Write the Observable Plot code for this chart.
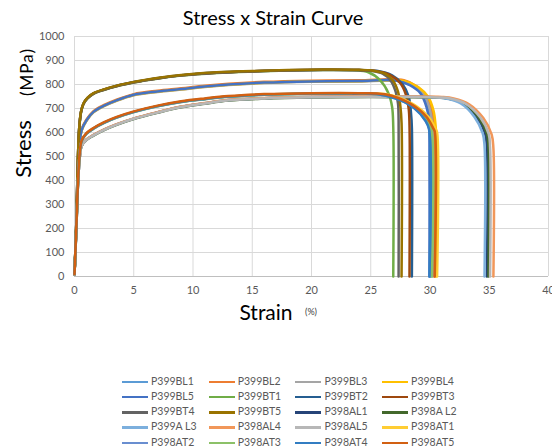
<!DOCTYPE html>
<html>
<head>
<meta charset="utf-8">
<script src="https://cdn.jsdelivr.net/npm/d3@7"></script>
<script src="https://cdn.jsdelivr.net/npm/@observablehq/plot@0.6"></script>
<style>
  body { margin: 0; background: #fff; font-family: Lato, "Open Sans", sans-serif; }
  #wrap { position: relative; width: 552px; height: 448px; overflow: hidden; }
  #title { position: absolute; top: 5px; left: 0; width: 546px; text-align: center; font-size: 20px; color: #000; }
  #legend { position: absolute; top: 0; left: 0; }
  .li { position: absolute; font-size: 10.5px; color: #595959; white-space: nowrap; }
  .li span.sw { position: absolute; left: 0; top: 6px; width: 26px; height: 2.5px; }
  .li span.tx { position: absolute; left: 29px; top: 0; }
</style>
</head>
<body>
<div id="wrap">
  <div id="chart"></div>
  <div id="title">Stress x Strain Curve</div>
  <div id="legend"></div>
</div>
<script>
const seriesNames = ["P399BL1","P399BL2","P399BL3","P399BL4","P399BL5","P399BT1","P399BT2","P399BT3","P399BT4","P399BT5","P398AL1","P398A L2","P399A L3","P398AL4","P398AL5","P398AT1","P398AT2","P398AT3","P398AT4","P398AT5"];
const seriesColors = ["#5B9BD5","#ED7D31","#A5A5A5","#FFC000","#4472C4","#70AD47","#255E91","#9E480E","#636363","#997300","#264478","#43682B","#7CAFDD","#F1975A","#B7B7B7","#FFCD33","#698ED0","#8CC168","#327DC2","#D26012"];
const strainTicks = [0,5,10,15,20,25,30,35,40];
const stressTicks = [0,100,200,300,400,500,600,700,800,900,1000];

// [strain %, stress MPa]
const P399BL1 = [[0,8],[0.15,200],[0.3,420],[0.45,560],[0.6,610],[1,650],[1.6,686],[2.5,712],[3.5,733],[5,757],[7,771],[9,781],[11,792],[13,800],[16,808],[20,813],[24,815],[27.4,816],[28.5,795],[29.35,760],[29.8,705],[30.02,648],[30.05,610],[30.05,0]];
const P399BL2 = [[0,9],[0.15,202],[0.3,422],[0.45,563],[0.6,613],[1,653],[1.6,689],[2.5,715],[3.5,736],[5,760],[7,774],[9,784],[11,795],[13,803],[16,811],[20,816],[24,818],[27.8,818],[28.9,792],[29.7,750],[30.15,693],[30.32,630],[30.35,610],[30.35,0]];
const P399BL3 = [[0,8],[0.15,198],[0.3,418],[0.45,558],[0.6,608],[1,648],[1.6,684],[2.5,710],[3.5,731],[5,755],[7,769],[9,779],[11,790],[13,798],[16,806],[20,811],[24,813],[27.6,813],[28.7,792],[29.5,756],[29.95,703],[30.17,645],[30.2,610],[30.2,0]];
const P399BL4 = [[0,8],[0.15,199],[0.3,419],[0.45,559],[0.6,609],[1,649],[1.6,685],[2.5,711],[3.5,732],[5,756],[7,770],[9,780],[11,791],[13,799],[16,807],[20,812],[24,814],[27.9,814],[29.0,789],[29.85,748],[30.3,690],[30.47,630],[30.5,610],[30.5,0]];
const P399BL5 = [[0,8],[0.15,200],[0.3,420],[0.45,560],[0.6,610],[1,650],[1.6,686],[2.5,712],[3.5,733],[5,757],[7,771],[9,781],[11,792],[13,800],[16,808],[20,813],[24,815],[27.2,816],[28.3,797],[29.2,763],[29.7,707],[29.92,651],[29.95,612],[29.95,0]];
const P399BT1 = [[0,10],[0.15,215],[0.28,470],[0.4,615],[0.55,683],[0.75,718],[1.1,742],[1.6,761],[3,785],[5,808],[7.25,826],[9,837],[12,848],[15,854],[18,858],[21,860],[23.5,859],[24.8,851],[25.8,817],[26.5,763],[26.8,707],[26.9,623],[26.9,0]];
const P399BT2 = [[0,10],[0.15,220],[0.28,478],[0.4,620],[0.55,686],[0.75,720],[1.1,744],[1.6,763],[3,787],[5,810],[7.25,828],[9,839],[12,850],[15,855],[18,859],[21,861],[24,860],[25.5,857],[26.8,838],[27.7,800],[28.2,749],[28.4,680],[28.47,620],[28.47,0]];
const P399BT3 = [[0,10],[0.15,218],[0.28,476],[0.4,619],[0.55,685],[0.75,719],[1.1,743],[1.6,762],[3,786],[5,809],[7.25,827],[9,838],[12,849],[15,855],[18,859],[21,861],[24,860],[25.3,857],[26.6,840],[27.5,805],[27.95,760],[28.2,700],[28.27,630],[28.27,0]];
const P399BT4 = [[0,10],[0.15,219],[0.28,477],[0.4,620],[0.55,685],[0.75,719],[1.1,743],[1.6,762],[3,786],[5,809],[7.25,827],[9,838],[12,849],[15,855],[18,859],[21,860],[24,860],[25,857],[26,845],[26.7,815],[27.1,770],[27.3,720],[27.35,650],[27.35,0]];
const P399BT5 = [[0,10],[0.15,220],[0.28,480],[0.4,621],[0.55,687],[0.75,721],[1.1,745],[1.6,764],[3,788],[5,811],[7.25,829],[9,840],[12,851],[15,856],[18,860],[21,862],[24,861],[25,859],[26.2,845],[26.9,815],[27.3,770],[27.5,710],[27.6,640],[27.6,0]];
const P398AL1 = [[0,8],[0.15,190],[0.3,390],[0.45,500],[0.6,545],[1,570],[1.6,589],[2.5,612],[3.5,633],[5,658],[7,684],[9,707],[11,722],[13,735],[16,743],[20,748],[25,750],[28,749],[30.5,747],[31.5,742],[32.8,721],[33.95,665],[34.65,596],[34.8,540],[34.8,0]];
const P398AL2 = [[0,8],[0.15,188],[0.3,388],[0.45,498],[0.6,543],[1,568],[1.6,587],[2.5,610],[3.5,631],[5,656],[7,682],[9,705],[11,720],[13,733],[16,741],[20,746],[25,748],[28,747],[30.5,745],[31.6,741],[32.9,719],[34.1,663],[34.8,594],[34.93,540],[34.93,0]];
const P399AL3 = [[0,8],[0.15,190],[0.3,390],[0.45,500],[0.6,545],[1,570],[1.6,589],[2.5,612],[3.5,633],[5,658],[7,684],[9,707],[11,722],[13,735],[16,743],[20,748],[25,750],[28,749],[30.3,747],[31.3,742],[32.6,721],[33.75,665],[34.45,596],[34.6,545],[34.6,0]];
const P398AL4 = [[0,8],[0.15,191],[0.3,391],[0.45,501],[0.6,546],[1,571],[1.6,590],[2.5,613],[3.5,634],[5,659],[7,685],[9,708],[11,723],[13,736],[16,744],[20,749],[25,751],[28,750],[31,748],[32,742],[33.3,718],[34.5,660],[35.2,592],[35.35,535],[35.35,0]];
const P398AL5 = [[0,8],[0.15,190],[0.3,389],[0.45,499],[0.6,544],[1,569],[1.6,588],[2.5,611],[3.5,632],[5,657],[7,683],[9,706],[11,721],[13,734],[16,742],[20,747],[25,749],[28,748],[30.7,746],[31.7,742],[33.0,720],[34.25,662],[34.95,594],[35.07,538],[35.07,0]];
const P398AT1 = [[0,10],[0.15,200],[0.3,400],[0.45,520],[0.6,565],[1,595],[1.6,617],[2.5,641],[3.5,662],[5,686],[7,710],[9,728],[11,740],[13,750],[16,758],[20,762],[24,762],[26.4,758],[28.5,720],[29.9,663],[30.5,612],[30.6,600],[30.6,0]];
const P398AT2 = [[0,10],[0.15,199],[0.3,399],[0.45,519],[0.6,564],[1,594],[1.6,616],[2.5,640],[3.5,661],[5,685],[7,709],[9,727],[11,739],[13,749],[16,757],[20,761],[23.5,761],[25.6,759],[27.4,737],[28.8,698],[29.65,648],[29.97,612],[30.0,0]];
const P398AT3 = [[0,10],[0.15,199],[0.3,399],[0.45,519],[0.6,564],[1,594],[1.6,616],[2.5,640],[3.5,661],[5,685],[7,709],[9,727],[11,739],[13,749],[16,757],[20,761],[23.7,761],[25.8,759],[27.6,735],[29,695],[29.8,645],[30.12,610],[30.15,0]];
const P398AT4 = [[0,10],[0.15,200],[0.3,400],[0.45,520],[0.6,565],[1,595],[1.6,617],[2.5,641],[3.5,662],[5,686],[7,710],[9,728],[11,740],[13,750],[16,758],[20,762],[23.4,762],[25.5,760],[27.3,738],[28.7,700],[29.6,650],[29.92,612],[29.95,0]];
const P398AT5 = [[0,10],[0.15,201],[0.3,401],[0.45,521],[0.6,567],[1,597],[1.6,619],[2.5,643],[3.5,664],[5,688],[7,712],[9,730],[11,742],[13,752],[16,760],[20,764],[24,764],[26.2,759],[28.3,721],[29.7,665],[30.3,615],[30.4,605],[30.4,0]];

const seriesData = [P399BL1,P399BL2,P399BL3,P399BL4,P399BL5,P399BT1,P399BT2,P399BT3,P399BT4,P399BT5,P398AL1,P398AL2,P399AL3,P398AL4,P398AL5,P398AT1,P398AT2,P398AT3,P398AT4,P398AT5];

const rows = [];
seriesData.forEach((pts, i) => pts.forEach(([s, v]) => rows.push({name: seriesNames[i], strain: s, stress: v})));

const chart = Plot.plot({
  width: 552,
  height: 330,
  marginLeft: 74,
  marginRight: 4,
  marginTop: 36,
  marginBottom: 54,
  style: {fontFamily: "Lato, 'Open Sans', sans-serif", background: "transparent", overflow: "visible"},
  x: {domain: [0, 40]},
  y: {domain: [0, 1000]},
  color: {domain: seriesNames, range: seriesColors},
  marks: [
    Plot.gridX(strainTicks, {stroke: "#d9d9d9", strokeOpacity: 1, strokeWidth: 1}),
    Plot.gridY(stressTicks, {stroke: "#d9d9d9", strokeOpacity: 1, strokeWidth: 1}),
    Plot.ruleY([0], {stroke: "#bfbfbf", strokeWidth: 1}),
    Plot.axisX(strainTicks, {tickSize: 0, tickPadding: 10, fontSize: 11, fill: "#595959", label: null, tickFormat: d => String(d)}),
    Plot.axisY(stressTicks, {tickSize: 0, tickPadding: 10, fontSize: 11, fill: "#595959", label: null, tickFormat: d => String(d)}),
    Plot.line(rows, {x: "strain", y: "stress", z: "name", stroke: "name", strokeWidth: 2.5, curve: "catmull-rom", strokeLinejoin: "round"})
  ]
});
document.getElementById("chart").appendChild(chart);

const svg = d3.select(chart);
svg.append("text").attr("transform", "translate(31,149) rotate(-90)").attr("text-anchor", "middle")
  .attr("font-size", 22).attr("fill", "#000").text("Stress");
svg.append("text").attr("transform", "translate(33,72) rotate(-90)").attr("text-anchor", "middle")
  .attr("font-size", 17).attr("fill", "#000").attr("letter-spacing", 1).text("(MPa)");
svg.append("text").attr("x", 266).attr("y", 320).attr("text-anchor", "middle")
  .attr("font-size", 21).attr("fill", "#000").text("Strain");
svg.append("text").attr("x", 311).attr("y", 315).attr("text-anchor", "middle")
  .attr("font-size", 9).attr("fill", "#404040").text("(%)");

const leg = document.getElementById("legend");
seriesNames.forEach((n, i) => {
  const col = i % 4, row = Math.floor(i / 4);
  const d = document.createElement("div");
  d.className = "li";
  d.style.left = (122 + col * 86.7) + "px";
  d.style.top = (374.5 + row * 15.25) + "px";
  d.innerHTML = `<span class="sw" style="background:${seriesColors[i]}"></span><span class="tx"></span>`;
  d.querySelector(".tx").textContent = n;
  leg.appendChild(d);
});
</script>
</body>
</html>
